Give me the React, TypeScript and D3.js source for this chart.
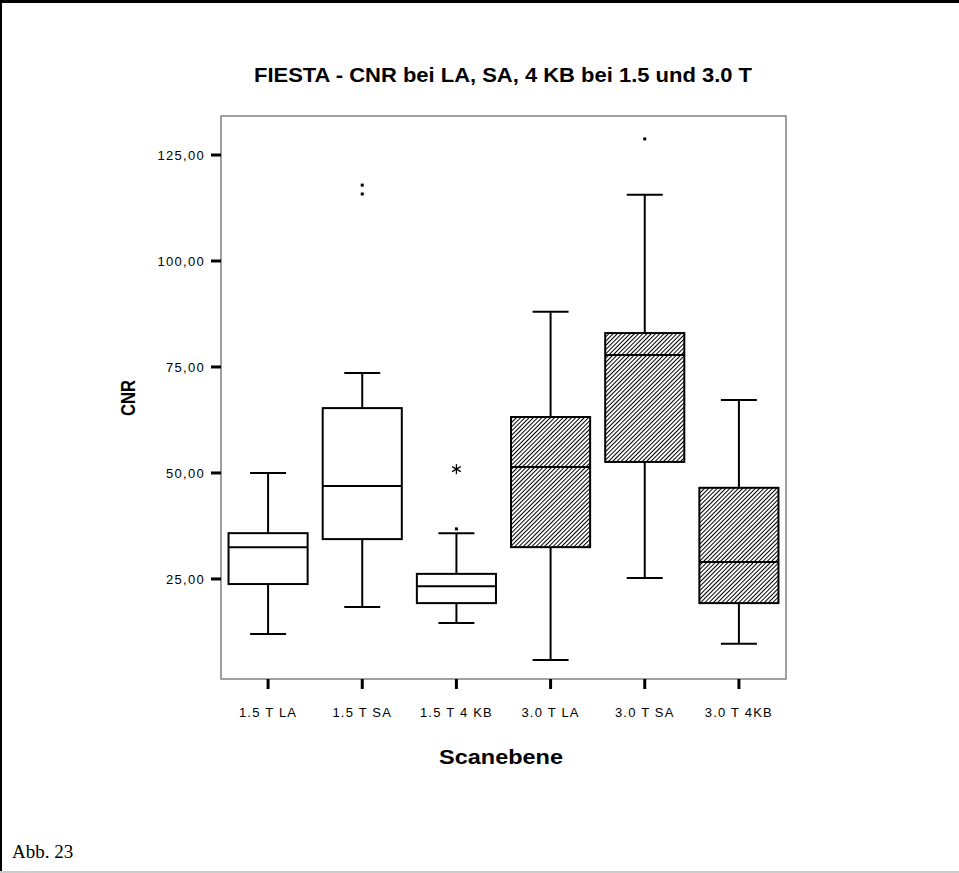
import React from "react";
import * as d3 from "d3";

const categories = ["1.5 T LA", "1.5 T SA", "1.5 T 4 KB", "3.0 T LA", "3.0 T SA", "3.0 T 4KB"];
const whiskerLow = [12.0, 18.4, 14.6, 5.9, 25.2, 9.7];
const q1 = [23.8, 34.4, 19.3, 32.5, 52.6, 19.3];
const median = [32.5, 46.9, 23.3, 51.4, 77.8, 29.0];
const q3 = [35.8, 65.3, 26.2, 63.2, 83.0, 46.5];
const whiskerHigh = [50.0, 73.6, 35.8, 88.0, 115.6, 67.2];
const hatched = [false, false, false, true, true, true];
const outlierCat = [1, 1, 2, 4];
const outlierVal = [117.9, 115.8, 36.8, 128.8];
const extremeCat = [2];
const extremeVal = [50.9];
const yTicks = [25, 50, 75, 100, 125];

const W = 959, H = 873;
const L = 221, R = 786, T = 116, B = 679;

export default function App() {
  const x = d3.scaleBand<string>().domain(categories).range([L, R]).paddingInner(0).paddingOuter(0);
  const y = d3.scaleLinear().domain([1.4, 134.2]).range([B, T]);
  const bw = x.bandwidth() * 0.84;
  const cw = 36;
  const cx = (i: number) => (x(categories[i]) as number) + x.bandwidth() / 2;
  const fmt = (v: number) => v.toFixed(2).replace(".", ",");
  const font = "'Liberation Sans', Arial, sans-serif";
  const narrow = "'Liberation Sans Narrow', 'Liberation Sans', Arial, sans-serif";

  return (
    <svg width={W} height={H} style={{ position: "absolute", left: 0, top: 0, background: "#fff" }}>
      <defs>
        <pattern id="hatch" patternUnits="userSpaceOnUse" width={3} height={3} patternTransform="rotate(45)">
          <rect width={3} height={3} fill="#fff" />
          <line x1={0.5} y1={0} x2={0.5} y2={3} stroke="#000" strokeWidth={1} />
        </pattern>
      </defs>
      <rect x={0} y={0} width={W} height={H} fill="#fff" />
      {/* outer frame */}
      <line x1={0} y1={1.5} x2={W} y2={1.5} stroke="#000" strokeWidth={3} />
      <line x1={1} y1={0} x2={1} y2={H} stroke="#000" strokeWidth={2} />
      <line x1={0} y1={872} x2={W} y2={872} stroke="#ccc" strokeWidth={2} />

      {/* title */}
      <text x={503} y={82} textAnchor="middle" fontFamily={narrow}
        fontWeight="bold" fontSize={21} textLength={498} lengthAdjust="spacingAndGlyphs" fill="#000">
        FIESTA - CNR bei LA, SA, 4 KB bei 1.5 und 3.0 T
      </text>

      {/* plot frame */}
      <rect x={L} y={T} width={R - L} height={B - T} fill="none" stroke="#808080" strokeWidth={1.5} />

      {/* y ticks */}
      {yTicks.map((t) => (
        <g key={t}>
          <line x1={211} x2={L} y1={y(t)} y2={y(t)} stroke="#000" strokeWidth={3} />
          <text x={205} y={y(t) + 5} textAnchor="end" fontFamily={font} fontSize={13} letterSpacing={1.3} fill="#000">{fmt(t)}</text>
        </g>
      ))}

      {/* x ticks */}
      {categories.map((c, i) => (
        <g key={c}>
          <line x1={cx(i)} x2={cx(i)} y1={B} y2={B + 10} stroke="#000" strokeWidth={3} />
          <text x={cx(i)} y={717} textAnchor="middle" fontFamily={font} fontSize={13} letterSpacing={1.2} fill="#000">{c}</text>
        </g>
      ))}

      {/* axis titles */}
      <text x={501} y={764} textAnchor="middle" fontFamily={narrow} fontWeight="bold" fontSize={20} textLength={124} lengthAdjust="spacingAndGlyphs" fill="#000">Scanebene</text>
      <text transform={`translate(135,398) rotate(-90)`} textAnchor="middle" fontFamily={narrow} fontWeight="bold" fontSize={20} textLength={36} lengthAdjust="spacingAndGlyphs" fill="#000">CNR</text>

      {/* boxes */}
      {categories.map((c, i) => {
        const xc = cx(i);
        return (
          <g key={"b" + c} stroke="#000" strokeWidth={2} fill="none">
            <line x1={xc} x2={xc} y1={y(whiskerHigh[i])} y2={y(q3[i])} />
            <line x1={xc} x2={xc} y1={y(q1[i])} y2={y(whiskerLow[i])} />
            <line x1={xc - cw / 2} x2={xc + cw / 2} y1={y(whiskerHigh[i])} y2={y(whiskerHigh[i])} />
            <line x1={xc - cw / 2} x2={xc + cw / 2} y1={y(whiskerLow[i])} y2={y(whiskerLow[i])} />
            <rect x={xc - bw / 2} y={y(q3[i])} width={bw} height={y(q1[i]) - y(q3[i])}
              fill={hatched[i] ? "url(#hatch)" : "#fff"} />
            <line x1={xc - bw / 2} x2={xc + bw / 2} y1={y(median[i])} y2={y(median[i])} />
          </g>
        );
      })}

      {/* outliers */}
      {outlierVal.map((v, k) => (
        <rect key={"o" + k} x={cx(outlierCat[k]) - 1.5} y={y(v) - 1.5} width={3} height={3} fill="#000" />
      ))}

      {/* extremes */}
      {extremeVal.map((v, k) => {
        const xc = cx(extremeCat[k]);
        const yc = y(v);
        const r = 5;
        return (
          <g key={"e" + k} stroke="#000" strokeWidth={1.3}>
            {[90, 30, 150].map((a) => {
              const rad = (a * Math.PI) / 180;
              return <line key={a} x1={xc - r * Math.cos(rad)} y1={yc - r * Math.sin(rad)} x2={xc + r * Math.cos(rad)} y2={yc + r * Math.sin(rad)} />;
            })}
          </g>
        );
      })}

      {/* footer */}
      <text x={12} y={858} fontFamily="'Liberation Serif', 'Times New Roman', serif" fontSize={19} fill="#000">Abb. 23</text>
    </svg>
  );
}
